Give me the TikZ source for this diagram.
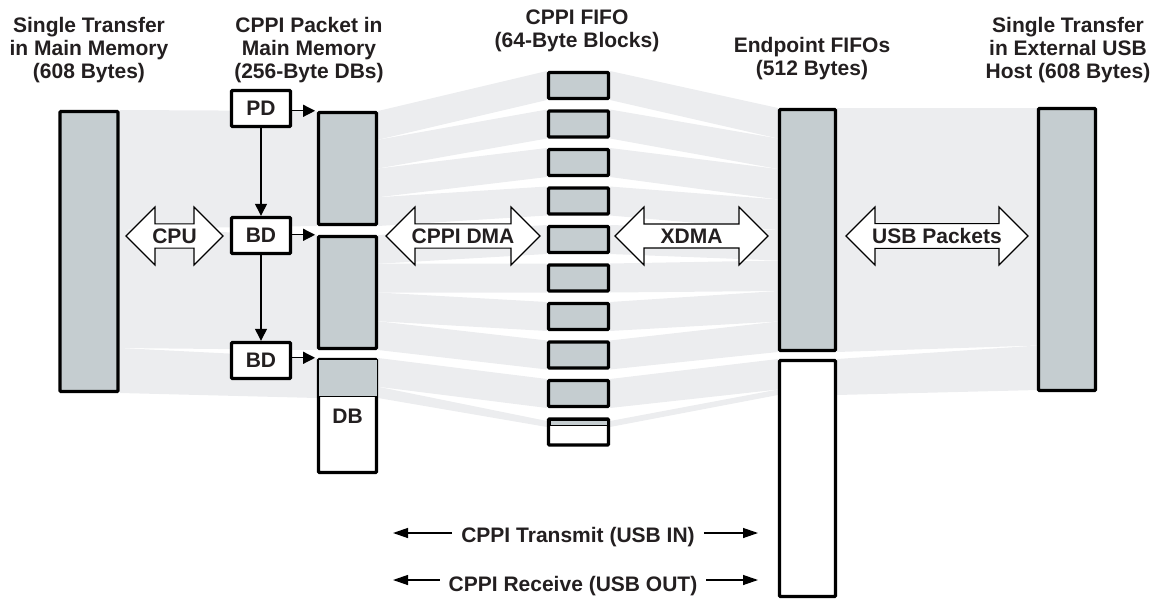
\documentclass[tikz,border=0pt]{standalone}
\usepackage{fontspec}
\setmainfont{Liberation Sans}
\usetikzlibrary{arrows.meta,calc,shapes.arrows}
\definecolor{BoxClr}{rgb}{0.773,0.804,0.816}
\definecolor{BandClr}{rgb}{0.925,0.929,0.937}
\definecolor{TxtClr}{rgb}{0.137,0.122,0.125}

\begin{document}
\begin{tikzpicture}[x=1pt,y=-1pt,
  every node/.style={text=TxtClr,font=\bfseries\fontsize{21}{23}\selectfont},
  title/.style={align=center,anchor=north,inner sep=0pt},
  bar/.style={draw,line width=3.4pt,fill=BoxClr,rounded corners=1pt,inner sep=0pt,minimum width=58pt},
  blk/.style={draw,line width=3.4pt,fill=BoxClr,rounded corners=1pt,inner sep=0pt,minimum width=60pt,minimum height=26pt},
  desc/.style={draw,line width=3.4pt,fill=white,rounded corners=1pt,inner sep=0pt,minimum width=59pt,minimum height=36pt},
  dbl/.style={double arrow,draw,fill=white,line width=1.1pt,double arrow head extend=11pt,minimum width=58pt,inner ysep=0pt,inner xsep=-4pt},
  band/.style={fill=BandClr},
  link/.style={line width=1.3pt,-{Triangle[length=12pt,width=12pt]}},
  span/.style={line width=1.3pt,-{Triangle[length=15pt,width=10pt]}}]

\useasboundingbox (0,0) rectangle (1156,602);

\fill[band] (120,110) -- (317,111) -- (317,226) -- (120,229) -- cycle;
\fill[band] (120,229) -- (317,235) -- (317,350) -- (120,348) -- cycle;
\fill[band] (120,348) -- (317,358) -- (317,398) -- (120,393) -- cycle;

\fill[band] (378,111) -- (547,71) -- (547,100) -- (378,139.75) -- cycle;
\fill[band] (378,139.75) -- (547,109.5) -- (547,138.5) -- (378,168.5) -- cycle;
\fill[band] (378,168.5) -- (547,148) -- (547,177) -- (378,197.25) -- cycle;
\fill[band] (378,197.25) -- (547,186.5) -- (547,215.5) -- (378,226) -- cycle;
\fill[band] (378,235) -- (547,225) -- (547,254) -- (378,263.75) -- cycle;
\fill[band] (378,263.75) -- (547,263.5) -- (547,292.5) -- (378,292.5) -- cycle;
\fill[band] (378,292.5) -- (547,302) -- (547,331) -- (378,321.25) -- cycle;
\fill[band] (378,321.25) -- (547,340.5) -- (547,369.5) -- (378,350) -- cycle;
\fill[band] (378,358) -- (547,379) -- (547,408) -- (378,386.75) -- cycle;
\fill[band] (378,386.75) -- (547,421) -- (547,427) -- (378,398) -- cycle;

\fill[band] (610,71) -- (778,108) -- (778,138.5) -- (610,100) -- cycle;
\fill[band] (610,109.5) -- (778,138.5) -- (778,169) -- (610,138.5) -- cycle;
\fill[band] (610,148) -- (778,169) -- (778,199.5) -- (610,177) -- cycle;
\fill[band] (610,186.5) -- (778,199.5) -- (778,230) -- (610,215.5) -- cycle;
\fill[band] (610,225) -- (778,230) -- (778,260.5) -- (610,254) -- cycle;
\fill[band] (610,263.5) -- (778,260.5) -- (778,291) -- (610,292.5) -- cycle;
\fill[band] (610,302) -- (778,291) -- (778,321.5) -- (610,331) -- cycle;
\fill[band] (610,340.5) -- (778,321.5) -- (778,352) -- (610,369.5) -- cycle;
\fill[band] (610,379) -- (778,359) -- (778,389.5) -- (610,408) -- cycle;
\fill[band] (610,421) -- (778,389.5) -- (778,395) -- (610,427) -- cycle;

\fill[band] (837,108) -- (1038,108) -- (1038,345.5) -- (837,352) -- cycle;
\fill[band] (837,359) -- (1038,345.5) -- (1038,390) -- (837,395) -- cycle;

\node[title] (mainttl) at (89,17) {Single Transfer\\in Main Memory\\(608 Bytes)};
\node[title] (pktttl) at (309,17) {CPPI Packet in\\Main Memory\\(256-Byte DBs)};
\node[title] (fifottl) at (577,10) {CPPI FIFO\\(64-Byte Blocks)};
\node[title] (epttl) at (812,37.5) {Endpoint FIFOs\\(512 Bytes)};
\node[title] (hostttl) at (1068,17) {Single Transfer\\in External USB\\Host (608 Bytes)};

\node[bar,minimum height=280pt] (mainmem) at (89,251.5) {};

\node[desc] (pd) at (261,108.5) {PD};
\node[desc] (bd1) at (261,235.5) {BD};
\node[desc] (bd2) at (261,360.5) {BD};

\node[bar,minimum height=112pt] (db1) at (347.5,168.5) {};
\node[bar,minimum height=112pt] (db2) at (347.5,292.5) {};
\node[bar,fill=white,minimum height=113pt] (db3) at (347.5,416) {DB};
\fill[BoxClr] ($(db3.north west)+(1.7,1.7)$) rectangle ($(db3.north east)+(-1.7,38.5)$);
\draw[line width=0.8pt] ($(db3.north west)+(1.7,38.5)$) -- ($(db3.north east)+(-1.7,38.5)$);

\node[blk] (f1) at (578.5,85.5) {};
\node[blk] (f2) at (578.5,124) {};
\node[blk] (f3) at (578.5,162.5) {};
\node[blk] (f4) at (578.5,201) {};
\node[blk] (f5) at (578.5,239.5) {};
\node[blk] (f6) at (578.5,278) {};
\node[blk] (f7) at (578.5,316.5) {};
\node[blk] (f8) at (578.5,355) {};
\node[blk] (f9) at (578.5,393.5) {};
\node[blk,fill=white] (f10) at (578.5,432) {};
\filldraw[fill=BoxClr,line width=0.6pt] ($(f10.north west)+(3,2.5)$) rectangle ($(f10.north east)+(-3,8)$);

\node[bar,minimum width=56pt,minimum height=241pt] (ep1) at (807.5,230) {};
\node[bar,fill=white,minimum width=56pt,minimum height=236pt] (ep2) at (807.5,478.5) {};

\node[bar,minimum width=57pt,minimum height=282pt] (host) at (1067,249.5) {};

\node[dbl,minimum height=97pt] (cpu) at (174.5,236) {CPU};
\node[dbl,minimum height=154pt] (cppidma) at (463,236) {CPPI DMA};
\node[dbl,minimum height=153pt] (xdma) at (691.5,236) {XDMA};
\node[dbl,minimum height=182pt] (usbpkt) at (937,236) {USB Packets};

\draw[link] (pd) -- (bd1);
\draw[link] (bd1) -- (bd2);
\draw[link,shorten >=1.7pt] (pd.east |- db1.north west) -- (db1.north west);
\draw[link,shorten >=1.7pt] (bd1.east |- db2.north west) -- (db2.north west);
\draw[link,shorten >=1.7pt] (bd2.east |- db3.north west) -- (db3.north west);

\node[inner xsep=9pt] (tx) at (578,537.5) {CPPI Transmit (USB IN)};
\node[inner xsep=9pt] (rx) at (573,586.5) {CPPI Receive (USB OUT)};
\coordinate (txl) at (393,533);
\coordinate (txr) at (758,533);
\coordinate (rxl) at (393,580);
\coordinate (rxr) at (758,580);
\draw[span] (txl -| tx.west) -- (txl);
\draw[span] (txr -| tx.east) -- (txr);
\draw[span] (rxl -| rx.west) -- (rxl);
\draw[span] (rxr -| rx.east) -- (rxr);

\end{tikzpicture}
\end{document}
